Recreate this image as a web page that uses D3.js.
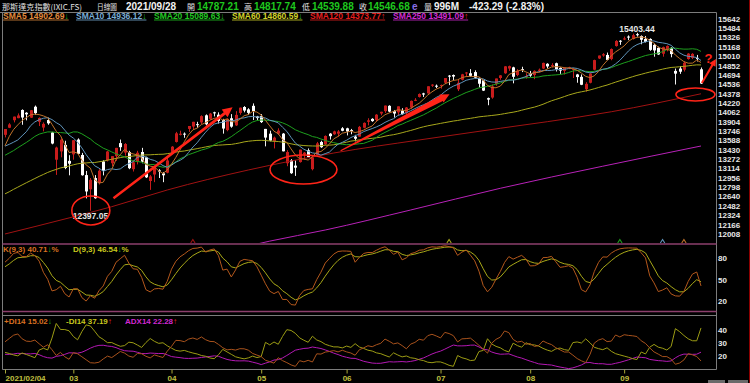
<!DOCTYPE html>
<html>
<head>
<meta charset="utf-8">
<script src="https://cdn.jsdelivr.net/npm/d3@7/dist/d3.min.js"></script>
<style>
  body { margin: 0; background: #000; }
  svg { display: block; }
  text { font-family: "Liberation Sans", Arial, sans-serif; }
</style>
</head>
<body>
<svg id="chart" width="750" height="383"></svg>
<script>
// ---- values (Nasdaq composite, daily, 2021/02/04 - 2021/09/28) ----
const year = '2021';
const dates = [
  '02/04','02/05','02/08','02/09','02/10','02/11','02/12','02/16','02/17','02/18','02/19','02/22','02/23','02/24','02/25','02/26',
  '03/01','03/02','03/03','03/04','03/05','03/08','03/09','03/10','03/11','03/12','03/15','03/16','03/17','03/18','03/19','03/22','03/23','03/24','03/25','03/26','03/29','03/30','03/31',
  '04/01','04/05','04/06','04/07','04/08','04/09','04/12','04/13','04/14','04/15','04/16','04/19','04/20','04/21','04/22','04/23','04/26','04/27','04/28','04/29','04/30',
  '05/03','05/04','05/05','05/06','05/07','05/10','05/11','05/12','05/13','05/14','05/17','05/18','05/19','05/20','05/21','05/24','05/25','05/26','05/27','05/28',
  '06/01','06/02','06/03','06/04','06/07','06/08','06/09','06/10','06/11','06/14','06/15','06/16','06/17','06/18','06/21','06/22','06/23','06/24','06/25','06/28','06/29','06/30',
  '07/01','07/02','07/06','07/07','07/08','07/09','07/12','07/13','07/14','07/15','07/16','07/19','07/20','07/21','07/22','07/23','07/26','07/27','07/28','07/29','07/30',
  '08/02','08/03','08/04','08/05','08/06','08/09','08/10','08/11','08/12','08/13','08/16','08/17','08/18','08/19','08/20','08/23','08/24','08/25','08/26','08/27','08/30','08/31',
  '09/01','09/02','09/03','09/07','09/08','09/09','09/10','09/13','09/14','09/15','09/16','09/17','09/20','09/21','09/22','09/23','09/24','09/27','09/28'
];

const opens = [
  13680,13800,13927,13962,14100,14053,13970,14155,13900,13803,
  13930,13720,13260,13400,13510,13240,13350,13600,13340,13000,
  12760,12950,12870,13230,13250,13200,13320,13540,13380,13390,
  13100,13230,13390,13300,12900,13010,13080,13030,13040,13380,
  13560,13680,13700,13780,13820,13860,13890,14010,13950,14060,
  14020,13930,13760,13960,13840,14050,14150,14110,14170,13990,
  14000,13780,13700,13570,13700,13700,13200,13250,13160,13220,
  13350,13420,13100,13340,13560,13520,13700,13690,13700,13790,
  13790,13760,13650,13650,13800,13900,13950,13930,14040,14080,
  14170,14080,14060,14090,14050,14140,14260,14320,14380,14380,
  14510,14510,14510,14560,14680,14690,14450,14610,14720,14720,
  14740,14640,14600,14300,14310,14540,14640,14720,14800,14820,
  14690,14790,14660,14720,14690,14760,14800,14880,14840,14890,
  14810,14760,14820,14780,14700,14660,14450,14560,14780,14970,
  15020,15030,14960,15180,15270,15290,15340,15300,15380,15350,
  15300,15300,15200,15150,15050,15120,15150,14760,14800,14780,
  14960,14980,14980,14787.21
];
const highs = [
  13778,13878,13988,14041,14110,14063,14100,14175,13975,13890,
  13970,13730,13480,13620,13580,13336,13590,13620,13375,13070,
  12950,13000,13100,13250,13410,13320,13460,13600,13540,13410,
  13250,13410,13460,13310,13000,13140,13100,13050,13290,13490,
  13730,13750,13720,13830,13900,13900,14010,14025,14050,14070,
  14060,13950,13960,14030,14080,14140,14165,14130,14211,14000,
  14030,13780,13750,13650,13790,13710,13420,13270,13250,13430,
  13390,13450,13320,13560,13580,13670,13710,13750,13760,13810,
  13800,13780,13680,13830,13890,13960,13960,14030,14070,14175,
  14180,14100,14160,14130,14150,14260,14300,14380,14390,14500,
  14535,14530,14530,14640,14690,14700,14620,14710,14740,14790,
  14770,14650,14610,14310,14530,14630,14690,14840,14850,14830,
  14790,14830,14720,14760,14770,14800,14900,14890,14890,14900,
  14820,14820,14830,14800,14710,14700,14570,14720,14950,15020,
  15060,15070,15140,15280,15280,15340,15360,15390,15403.44,15360,
  15350,15310,15220,15170,15170,15190,15160,14800,14840,14920,
  15060,15060,15030,14817.74
];
const lows = [
  13637,13794,13890,13960,13850,13925,13965,14018,13828,13738,
  13850,13520,13003,13300,13100,12996,13260,13350,12990,12606,
  12397.05,12600,12840,12995,13230,13150,13240,13410,13330,13100,
  13060,13180,13200,12950,12750,12880,12950,12880,13030,13370,
  13550,13670,13630,13730,13770,13800,13860,13840,13935,13990,
  13870,13700,13740,13800,13830,14020,14060,14020,13930,13930,
  13880,13485,13570,13450,13680,13400,13150,13020,12986,13210,
  13260,13300,13080,13330,13460,13510,13600,13680,13650,13740,
  13670,13690,13570,13650,13790,13840,13900,13900,14010,14050,
  14060,13970,14010,14020,13970,14120,14250,14310,14320,14375,
  14490,14470,14460,14540,14520,14600,14420,14600,14660,14660,
  14630,14480,14420,14180,14290,14510,14610,14710,14760,14550,
  14670,14740,14630,14660,14620,14740,14790,14800,14820,14750,
  14710,14700,14790,14640,14560,14520,14410,14550,14770,14960,
  15000,14940,14940,15170,15200,15280,15280,15290,15340,15210,
  15240,15100,15000,15030,15000,15090,14990,14530,14710,14750,
  14950,14960,14920,14539.88
];
const closes = [
  13777.74,13856.30,13987.64,14007.70,13972.53,14025.77,14095.47,14047.50,13965.49,13865.36,
  13874.46,13533.05,13465.20,13597.97,13119.43,13192.35,13588.83,13358.79,12997.75,12723.47,
  12920.15,12609.16,13073.82,13068.83,13398.67,13319.87,13459.71,13471.57,13525.20,13116.17,
  13215.24,13377.54,13227.70,12961.89,12977.68,13138.73,13059.65,12996.70,13246.87,13480.11,
  13705.59,13698.38,13688.84,13829.31,13900.19,13850.00,13996.10,13857.84,14038.76,14052.34,
  13914.77,13786.27,13950.22,13818.41,14016.81,14138.78,14090.22,14051.03,14082.55,13962.68,
  13895.12,13633.50,13582.42,13632.84,13752.24,13401.86,13389.43,13031.68,13124.99,13429.98,
  13379.05,13303.64,13299.74,13535.74,13470.99,13661.17,13657.17,13738.00,13736.48,13748.74,
  13736.28,13756.33,13614.51,13814.49,13881.72,13924.98,13911.75,14020.33,14069.42,14174.14,
  14072.86,14039.68,14161.35,14030.38,14141.48,14253.27,14271.73,14369.71,14360.39,14500.51,
  14528.33,14503.95,14522.38,14639.33,14663.64,14665.06,14559.79,14701.92,14733.24,14677.65,
  14644.95,14543.13,14427.24,14274.98,14498.88,14631.95,14684.60,14836.99,14840.71,14660.58,
  14762.58,14778.26,14672.68,14681.07,14761.29,14780.53,14895.12,14835.76,14860.18,14788.09,
  14765.14,14816.26,14822.90,14793.76,14656.18,14525.91,14541.79,14714.66,14942.65,15019.80,
  15041.86,14945.81,15129.50,15265.89,15259.24,15309.38,15331.18,15363.52,15374.33,15286.64,
  15248.25,15115.49,15105.58,15037.76,15161.53,15181.92,15043.97,14713.90,14746.40,14896.85,
  15052.24,15047.70,14969.97,14546.68
];
// closes before the window (2020/11/09 - 2021/02/03), needed so SMA5..SMA60 exist from the first bar
const priorCloses = [
  11713.78,11553.86,11786.43,11709.59,11829.29,11924.13,11899.34,11801.60,11904.71,11854.97,
  11880.63,12036.79,12094.40,12205.85,12198.74,12355.11,12349.37,12377.18,12464.23,12519.95,
  12582.77,12338.95,12405.81,12377.87,12440.04,12595.06,12658.19,12764.75,12755.64,12742.52,
  12807.92,12771.11,12804.73,12899.42,12850.22,12870.00,12888.28,12698.45,12818.96,12740.79,
  13067.48,13201.98,13036.43,13072.43,13128.95,13112.64,12998.50,13197.18,13457.25,13530.92,
  13543.06,13635.99,13626.07,13270.60,13337.16,13070.70,13403.39,13612.78,13610.54
];
// long averages at a few bars
const sma120Bars = [0, 15, 25, 38, 57, 77, 97, 116, 127, 142, 163];
const sma120Vals = [12005, 12276, 12466, 12748, 13086, 13373, 13593, 13791, 13902, 14070, 14373.77];
const sma250Bars = [55, 62, 75, 95, 116, 140, 163];
const sma250Vals = [11770, 11884, 12072, 12410, 12777, 13150, 13491.09];

const kdStart = [62, 65];
const dmiStart = [31, 23, 21.5];
const atrStart = 200;

const priceTicks = [15642,15484,15326,15168,15010,14852,14694,14536,14378,14220,14062,13904,
                    13746,13588,13430,13272,13114,12956,12798,12640,12482,12324,12166,12008];
const kdTicks = [80, 50, 20];
const dmiTicks = [40, 30, 20];

const headerText = ['那斯達克指數(IXIC.FS)', '日線圖', '2021/09/28', '開', '14787.21', '高', '14817.74',
                    '低', '14539.88', '收', '14546.68', 'e', '量', '996M', '-423.29 (-2.83%)'];
const smaNames = ['SMA5', 'SMA10', 'SMA20', 'SMA60', 'SMA120', 'SMA250'];
const smaLast = ['14902.69', '14936.12', '15089.63', '14860.59', '14373.77', '13491.09'];
const smaTrend = ['down', 'down', 'down', 'down', 'up', 'up'];
const kdNames = ['K(9,3)', 'D(9,3)'];
const kdLast = ['40.71', '46.54'];
const kdTrend = ['down', 'down'];
const dmiNames = ['+DI14', '-DI14', 'ADX14'];
const dmiLast = ['15.02', '37.19', '22.28'];
const dmiTrend = ['down', 'up', 'up'];

const lowLabel = [20, '12397.05'];
const highLabel = [148, '15403.44'];
const signalBars = [44, 104, 144, 154, 159];

// hand-drawn annotations, in bar / price units
const ringCenters = [[20.1, 12402], [69.9, 13095], [161.7, 14362]];
const arrowFrom = [[25.4, 12608], [78.6, 13412], [163.2, 14556]];
const arrowTo = [[53.3, 14145], [104.1, 14365], [166.5, 14961]];
const questionAt = [164.75, 14894];

// ---- drawing ----
const svg = d3.select('#chart');
const n = closes.length;

const x = d3.scaleLinear().domain([0, n - 1]).range([5, 701]);
const yP = d3.scaleLinear().domain([12008, 15642]).range([233.8, 18.7]);
const yK = d3.scaleLinear().domain([20, 80]).range([301.3, 258.3]);
const yM = d3.scaleLinear().domain([20, 40]).range([356.3, 330]);

const red = '#c81c1c', up = '#e62020', dn = '#20c020', grey = '#7c7c7c', mauve = '#8c3f6c';
const lineCol = { sma5: '#c0722a', sma10: '#5f94bb', sma20: '#1ea01e', sma60: '#a8a81c', sma120: '#a01212', sma250: '#b822b8' };
const textCol = ['#e08a3c', '#78acd4', '#22c822', '#d2d22a', '#e61e1e', '#d22ad2'];

const defs = svg.append('defs');
const clip = (id, y0, y1) => defs.append('clipPath').attr('id', id)
  .append('rect').attr('x', 3).attr('y', y0).attr('width', 713).attr('height', y1 - y0);
clip('cMain', 13, 243);
clip('cKD', 245, 311);
clip('cDMI', 316, 369);

// frame
const hl = (y, x0, x1, c, w) => svg.append('line').attr('x1', x0).attr('x2', x1).attr('y1', y).attr('y2', y)
  .attr('stroke', c).attr('stroke-width', w || 1);
const vl = (xx, y0, y1, c) => svg.append('line').attr('x1', xx).attr('x2', xx).attr('y1', y0).attr('y2', y1).attr('stroke', c);
hl(12.5, 0, 716.5, grey);
vl(716.5, 12.5, 369.5, grey);
vl(2.5, 12.5, 369.5, grey);
hl(244, 2.5, 716.5, mauve, 1.5);
hl(311.5, 2.5, 716.5, mauve, 1.5);
hl(315.5, 2.5, 716.5, grey);
hl(369.5, 2.5, 716.5, grey);
vl(749.5, 0, 383, '#8b0000');
svg.append('rect').attr('x', 708).attr('y', 380).attr('width', 17).attr('height', 3).attr('fill', '#6a6a6a');
svg.append('rect').attr('x', 728).attr('y', 380).attr('width', 20).attr('height', 3).attr('fill', '#6a6a6a');

// candles
const main = svg.append('g').attr('clip-path', 'url(#cMain)');
const isUp = i => closes[i] >= opens[i];
const bars = main.append('g').selectAll('g').data(d3.range(n)).join('g');
bars.append('line')
  .attr('x1', i => Math.round(x(i)) + 0.5).attr('x2', i => Math.round(x(i)) + 0.5)
  .attr('y1', i => yP(highs[i])).attr('y2', i => yP(lows[i]))
  .attr('stroke', i => isUp(i) ? red : '#f0f0f0');
bars.append('rect')
  .attr('x', i => Math.round(x(i)) - 1).attr('width', 3)
  .attr('y', i => yP(Math.max(opens[i], closes[i])))
  .attr('height', i => Math.max(1, Math.abs(yP(opens[i]) - yP(closes[i]))))
  .attr('fill', i => isUp(i) ? red : '#ffffff');

// moving averages
const allCloses = priorCloses.concat(closes);
const off = priorCloses.length;
const sma = k => closes.map((c, i) => d3.mean(allCloses.slice(off + i - k + 1, off + i + 1)));
const line = d3.line().x((d, i) => x(i)).y(d => yP(d));
const sparse = d3.line().x(d => x(d[0])).y(d => yP(d[1])).curve(d3.curveMonotoneX);

main.append('path').attr('d', sparse(d3.zip(sma250Bars, sma250Vals))).attr('fill', 'none').attr('stroke', lineCol.sma250);
main.append('path').attr('d', sparse(d3.zip(sma120Bars, sma120Vals))).attr('fill', 'none').attr('stroke', lineCol.sma120);
[[60, lineCol.sma60], [20, lineCol.sma20], [10, lineCol.sma10], [5, lineCol.sma5]].forEach(([k, c]) => {
  main.append('path').attr('d', line(sma(k))).attr('fill', 'none').attr('stroke', c);
});

// signal carets at panel bottom
const sigCol = [lineCol.sma120, lineCol.sma60, lineCol.sma20, lineCol.sma10, lineCol.sma5];
svg.append('g').selectAll('path').data(signalBars).join('path')
  .attr('d', b => `M${x(b) - 2.2},243 L${x(b)},239.5 L${x(b) + 2.2},243`)
  .attr('fill', 'none').attr('stroke', (b, i) => sigCol[i]).attr('stroke-width', 1.1);

// high / low labels
const lblStyle = s => s.attr('text-anchor', 'middle').attr('fill', '#e6e6e6')
  .style('font-size', '8.5px').style('font-weight', 'bold');
svg.append('text').attr('x', x(lowLabel[0])).attr('y', yP(lows[lowLabel[0]]) + 7.8).text(lowLabel[1]).call(lblStyle);
svg.append('text').attr('x', x(highLabel[0])).attr('y', yP(highs[highLabel[0]]) - 1.2).text(highLabel[1]).call(lblStyle);

// KD
let k = kdStart[0], d = kdStart[1];
const K = [], D = [];
for (let i = 0; i < n; i++) {
  const lo = d3.min(lows.slice(Math.max(0, i - 8), i + 1));
  const hi = d3.max(highs.slice(Math.max(0, i - 8), i + 1));
  const rsv = hi > lo ? (closes[i] - lo) / (hi - lo) * 100 : 50;
  k = k * 2 / 3 + rsv / 3;
  d = d * 2 / 3 + k / 3;
  K.push(k); D.push(d);
}
const kdG = svg.append('g').attr('clip-path', 'url(#cKD)');
const kdLine = d3.line().x((v, i) => x(i)).y(v => yK(v));
kdG.append('path').attr('d', kdLine(D)).attr('fill', 'none').attr('stroke', '#a8a818');
kdG.append('path').attr('d', kdLine(K)).attr('fill', 'none').attr('stroke', '#b4581c');

// DMI (Wilder)
let atr = atrStart, pdm = dmiStart[0] / 100 * atrStart, mdm = dmiStart[1] / 100 * atrStart, adx = dmiStart[2];
const PDI = [dmiStart[0]], MDI = [dmiStart[1]], ADX = [adx];
for (let i = 1; i < n; i++) {
  const tr = Math.max(highs[i] - lows[i], Math.abs(highs[i] - closes[i - 1]), Math.abs(lows[i] - closes[i - 1]));
  const u = highs[i] - highs[i - 1], w = lows[i - 1] - lows[i];
  const p = u > w && u > 0 ? u : 0, m = w > u && w > 0 ? w : 0;
  atr += (tr - atr) / 14; pdm += (p - pdm) / 14; mdm += (m - mdm) / 14;
  const pdi = 100 * pdm / atr, mdi = 100 * mdm / atr;
  const dx = pdi + mdi > 0 ? 100 * Math.abs(pdi - mdi) / (pdi + mdi) : 0;
  adx += (dx - adx) / 14;
  PDI.push(pdi); MDI.push(mdi); ADX.push(adx);
}
const dmG = svg.append('g').attr('clip-path', 'url(#cDMI)');
const dmLine = d3.line().x((v, i) => x(i)).y(v => yM(v));
dmG.append('path').attr('d', dmLine(ADX)).attr('fill', 'none').attr('stroke', '#b418b4');
dmG.append('path').attr('d', dmLine(MDI)).attr('fill', 'none').attr('stroke', '#9c9c14');
dmG.append('path').attr('d', dmLine(PDI)).attr('fill', 'none').attr('stroke', '#a8521c');

// right-hand axes
const rightAxis = (scale, ticks) => svg.append('g').attr('transform', 'translate(716,0)')
  .call(d3.axisRight(scale).tickValues(ticks).tickSize(0).tickPadding(2).tickFormat(d3.format('d')))
  .call(g => g.select('.domain').remove())
  .selectAll('text').attr('fill', '#e8e8e8').style('font-size', '8px').style('font-weight', 'bold')
  .style('font-family', '"Liberation Sans", Arial, sans-serif');
rightAxis(yP, priceTicks);
rightAxis(yK, kdTicks);
rightAxis(yM, dmiTicks);

// date axis
const monthStarts = d3.range(n).filter(i => i === 0 || dates[i].slice(0, 2) !== dates[i - 1].slice(0, 2));
const dateAxis = svg.append('g').attr('transform', 'translate(0,369.5)')
  .call(d3.axisBottom(x).tickValues(monthStarts).tickSize(4).tickPadding(2)
    .tickFormat(i => i === 0 ? `${year}/${dates[0]}` : dates[i].slice(0, 2)));
dateAxis.select('.domain').remove();
dateAxis.selectAll('line').attr('stroke', '#a8a838');
dateAxis.selectAll('text').attr('fill', '#c0c040').style('font-size', '8px').style('font-weight', 'bold')
  .style('font-family', '"Liberation Sans", Arial, sans-serif')
  .attr('text-anchor', i => i === 0 ? 'start' : 'middle');

// header
const headerX = [2, 97, 126, 187, 197, 244, 254, 302, 312, 359, 368, 412, 424, 434, 469];
const headerKind = ['cjk', 'cjk', 'w', 'cjk', 'g', 'cjk', 'g', 'cjk', 'g', 'cjk', 'g', 'e', 'cjk', 'w', 'w'];
headerText.forEach((t, i) => {
  const el = svg.append('text').attr('x', headerX[i]).attr('y', 10).text(t);
  const kind = headerKind[i];
  if (kind === 'cjk') {
    el.attr('fill', '#e0e0e0').style('font-family', '"Noto Sans CJK TC", sans-serif').style('font-size', '8px');
    if (i === 0) el.attr('textLength', 80).attr('lengthAdjust', 'spacingAndGlyphs');
    if (i === 1) el.attr('textLength', 20).attr('lengthAdjust', 'spacingAndGlyphs');
  } else {
    el.style('font-size', '10px').style('font-weight', 'bold')
      .attr('fill', kind === 'g' ? '#1ec81e' : kind === 'e' ? '#8a6ee6' : '#f2f2f2');
  }
});

// legends
function legend(x0, y0, size, label, color, trend, suffix, underline) {
  const t = svg.append('text').attr('x', x0).attr('y', y0)
    .style('font-size', size + 'px').style('font-weight', 'bold');
  t.append('tspan').attr('fill', color).text(label);
  t.append('tspan').attr('fill', trend === 'up' ? up : dn).text(trend === 'up' ? '↑' : '↓');
  if (suffix) t.append('tspan').attr('fill', color).text(suffix);
  if (underline) {
    const w = t.node().getComputedTextLength();
    svg.append('line').attr('x1', x0).attr('x2', x0 + w).attr('y1', y0 + 1.5).attr('y2', y0 + 1.5)
      .attr('stroke', color).attr('stroke-width', 0.8);
  }
}
const smaX = [3, 76, 154, 232, 310, 393];
smaNames.forEach((s, i) => legend(smaX[i], 18.5, 8.5, `${s} ${smaLast[i]}`, textCol[i], smaTrend[i], '', true));
const kdX = [3, 73], kdCol = ['#d87020', '#c8c81e'];
kdNames.forEach((s, i) => legend(kdX[i], 252, 8, `${s} ${kdLast[i]}`, kdCol[i], kdTrend[i], '%', false));
const dmX = [4, 66, 125], dmCol = ['#d87020', '#c8c81e', '#d228d2'];
dmiNames.forEach((s, i) => legend(dmX[i], 324, 8, `${s} ${dmiLast[i]}`, dmCol[i], dmiTrend[i], '', false));

// annotations
const anno = svg.append('g');
const annoRed = '#ff2418';
const ringR = [[19, 14.5], [33.5, 14.5], [19.5, 6.5]];
ringCenters.forEach((c, i) => anno.append('ellipse')
  .attr('cx', x(c[0])).attr('cy', yP(c[1])).attr('rx', ringR[i][0]).attr('ry', ringR[i][1])
  .attr('fill', 'none').attr('stroke', annoRed).attr('stroke-width', 1.6));

const arrowShape = [[1.2, 1.5, 4.8, 10], [0.6, 3, 4.5, 9], [1, 1.1, 3.6, 7]];
arrowFrom.forEach((a, i) => {
  const [x0, y0] = [x(a[0]), yP(a[1])], [x1, y1] = [x(arrowTo[i][0]), yP(arrowTo[i][1])];
  const [t0, t1, hw, hl2] = arrowShape[i];
  const len = Math.hypot(x1 - x0, y1 - y0), ux = (x1 - x0) / len, uy = (y1 - y0) / len, px = -uy, py = ux;
  const nx = x1 - ux * hl2, ny = y1 - uy * hl2;
  const pts = [[x0 + px * t0, y0 + py * t0], [nx + px * t1, ny + py * t1], [nx + px * hw, ny + py * hw], [x1, y1],
               [nx - px * hw, ny - py * hw], [nx - px * t1, ny - py * t1], [x0 - px * t0, y0 - py * t0]];
  anno.append('path').attr('d', d3.line()(pts) + 'Z').attr('fill', annoRed);
});
anno.append('text').attr('x', x(questionAt[0])).attr('y', yP(questionAt[1])).attr('text-anchor', 'middle')
  .attr('fill', annoRed).style('font-size', '13px').style('font-weight', 'bold').text('?');
</script>
</body>
</html>
